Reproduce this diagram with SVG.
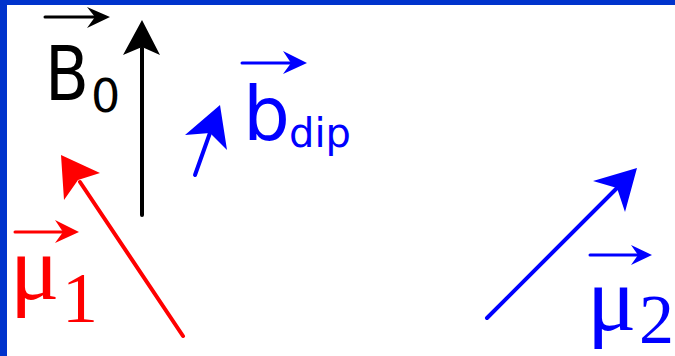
<svg xmlns="http://www.w3.org/2000/svg" width="675" height="356" viewBox="0 0 675 356">
<style>
.sans{font-family:"DejaVu Sans","Liberation Sans",sans-serif}
.serif{font-family:"Liberation Serif","DejaVu Serif",serif}
.k{fill:#000}.kl{stroke:#000}
.r{fill:#ff0000}.rl{stroke:#ff0000}
.b{fill:#0000ff}.bl{stroke:#0000ff}
line{stroke-linecap:round}
</style>
<rect x="0" y="0" width="675" height="356" fill="#ffffff"/>
<rect x="0" y="0" width="675" height="5" fill="#0033cc"/>
<rect x="0" y="0" width="7" height="356" fill="#0033cc"/>
<g id="connectors">
  <g id="B0-arrow">
    <line x1="142" y1="215" x2="142" y2="48" class="kl" stroke-width="4" stroke-linecap="butt"/>
    <path d="M142,20 L160,55 L142,47 L123,55 Z" class="k"/>
  </g>
  <g id="bdip-arrow">
    <line x1="195" y1="175" x2="211" y2="130" class="bl" stroke-width="4" stroke-linecap="butt"/>
    <path d="M220,105 L227,150 L210,133 L185,135 Z" class="b"/>
  </g>
  <g id="mu1-arrow">
    <line x1="183" y1="336" x2="80" y2="182" class="rl" stroke-width="4" stroke-linecap="butt"/>
    <path d="M61,155 L100,173 L78,180 L64,200 Z" class="r"/>
  </g>
  <g id="mu2-arrow">
    <line x1="487" y1="318" x2="619" y2="186" class="bl" stroke-width="4" stroke-linecap="butt"/>
    <path d="M637,168 L625,212 L617,188 L593,181 Z" class="b"/>
  </g>
</g>
<g id="B0-label">
  <line x1="45" y1="17" x2="102" y2="17" class="kl" stroke-width="3"/>
  <path d="M110,17 L87,7 L95,17 L87,28 Z" class="k"/>
  <text x="45" y="100" font-size="74" class="sans k" textLength="44" lengthAdjust="spacingAndGlyphs">B</text>
  <text x="91" y="112" font-size="46" class="sans k">0</text>
</g>
<g id="bdip-label">
  <line x1="242" y1="63" x2="299" y2="63" class="bl" stroke-width="3"/>
  <path d="M307,63 L283,51 L291,63 L283,74 Z" class="b"/>
  <text x="243" y="140" font-size="74" class="sans b">b</text>
  <text x="289" y="147" font-size="40" class="sans b">dip</text>
</g>
<g id="mu1-label">
  <line x1="15" y1="232" x2="72" y2="232" class="rl" stroke-width="3"/>
  <path d="M79,232 L55,220 L63,232 L55,243 Z" class="r"/>
  <text x="10" y="299" font-size="92" class="serif r">μ</text>
  <text x="62" y="322" font-size="72" class="serif r">1</text>
</g>
<g id="mu2-label">
  <line x1="590" y1="255" x2="645" y2="255" class="bl" stroke-width="3"/>
  <path d="M652,255 L631,245 L638,255 L631,265 Z" class="b"/>
  <text x="587" y="330" font-size="92" class="serif b">μ</text>
  <text x="639" y="343" font-size="70" class="serif b">2</text>
</g>
</svg>
